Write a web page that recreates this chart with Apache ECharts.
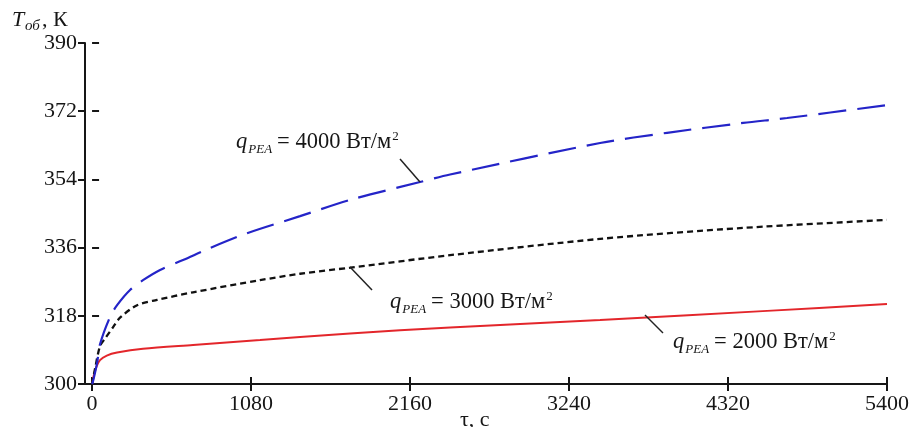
<!DOCTYPE html>
<html>
<head>
<meta charset="utf-8">
<script src="https://cdn.jsdelivr.net/npm/echarts@6/dist/echarts.min.js"></script>
<style>
  html, body { margin: 0; padding: 0; background: #fff; }
  #chart { width: 916px; height: 427px; }
</style>
</head>
<body>
<div id="chart"></div>
<script>
// Tick values of both axes
const timeTicks = [0, 1080, 2160, 3240, 4320, 5400];
const tempTicks = [300, 318, 336, 354, 372, 390];

// Heating curves: time, s -> temperature, K
const time2000 = [0, 12, 30, 54, 100, 170, 346, 686, 1141, 1413, 2092, 2772, 3451, 4586, 5400];
const temp2000 = [300, 302.3, 304.6, 306.3, 307.5, 308.3, 309.3, 310.3, 311.6, 312.4, 314.2, 315.6, 316.9, 319.3, 321.1];

const time3000 = [0, 20, 54, 88, 143, 190, 306, 442, 686, 1141, 1413, 1753, 2432, 3451, 4423, 5400];
const temp3000 = [300, 304, 310, 312, 315, 317.5, 320.8, 322.2, 324.2, 327.4, 329.1, 330.7, 334.0, 338.3, 341.2, 343.3];

const time4000 = [0, 7, 34, 54, 122, 170, 258, 346, 462, 618, 802, 1053, 1413, 1753, 2228, 2432, 3451, 3906, 4423, 4721, 5400];
const temp4000 = [300, 300.8, 305.5, 310.5, 317.7, 320.8, 324.8, 327.4, 330.1, 332.7, 335.9, 339.8, 344.3, 348.6, 353.3, 355.3, 363.6, 366.3, 368.9, 370.2, 373.6];

// Heat-flux values used in the curve captions
const fluxValues = ['2000', '3000', '4000'];

const SERIF = '"Liberation Serif", "Times New Roman", serif';
const INK = '#161616';

function pairs(xs, ys) { return xs.map((x, i) => [x, ys[i]]); }

const measureCtx = document.createElement('canvas').getContext('2d');
function textWidth(str, font) { measureCtx.font = font; return measureCtx.measureText(str).width; }

// Text pieces positioned on a common alphabetic baseline
function piece(str, x, baseline, size, italic) {
  return {
    type: 'text',
    style: {
      text: str, x: x, y: baseline - size * 0.34,
      font: (italic ? 'italic ' : '') + size + 'px ' + SERIF,
      fill: INK, verticalAlign: 'middle', textAlign: 'left'
    },
    z: 10
  };
}

// Caption "q_PEA = N Вт/м²" starting at x with baseline y
function caption(flux, x, y) {
  const big = 22.5, small = 13;
  const els = [];
  els.push(piece('q', x, y, big, true));
  let cx = x + textWidth('q', 'italic ' + big + 'px ' + SERIF) + 1;
  els.push(piece('PEA', cx, y + 4, small, true));
  cx += textWidth('PEA', 'italic ' + small + 'px ' + SERIF) + 5;
  const main = '= ' + flux + ' Вт/м';
  els.push(piece(main, cx, y, big, false));
  cx += textWidth(main, big + 'px ' + SERIF) + 1;
  els.push(piece('2', cx, y - 9, small, false));
  return els;
}

function leader(x1, y1, x2, y2) {
  return {
    type: 'line', shape: { x1, y1, x2, y2 },
    style: { stroke: '#222', lineWidth: 1.5 }, z: 10
  };
}

const graphics = [].concat(
  caption(fluxValues[2], 236, 150),
  caption(fluxValues[1], 390, 310),
  caption(fluxValues[0], 673, 350),
  [
    leader(400, 159, 420, 182),
    leader(350, 267, 372, 290),
    leader(645, 315, 663, 333),
    // axis titles
    piece('T', 12, 28, 22, true),
    piece('об', 25, 31, 15, true),
    piece(', К', 42, 28, 22, false),
    piece('τ, c', 460, 428, 22, false)
  ]
);

const tickStyle = { color: INK, width: 2 };

const chart = echarts.init(document.getElementById('chart'), null, { renderer: 'canvas' });
chart.setOption({
  animation: false,
  backgroundColor: '#fff',
  grid: { left: 85, right: 29, top: 43, bottom: 43 },
  xAxis: [
    {
      type: 'value', min: -48, max: 5400, position: 'bottom',
      axisLine: { show: true, onZero: false, lineStyle: { color: INK, width: 2 } },
      axisTick: { show: true, customValues: timeTicks, length: 7, lineStyle: tickStyle },
      axisLabel: {
        customValues: timeTicks, margin: 9, fontFamily: SERIF, fontSize: 22, color: INK,
        formatter: v => String(v)
      },
      splitLine: { show: false }
    },
    {
      type: 'value', min: -48, max: 5400, position: 'bottom',
      axisLine: { show: false },
      axisTick: { show: true, inside: true, customValues: timeTicks, length: 7, lineStyle: tickStyle },
      axisLabel: { show: false },
      splitLine: { show: false }
    }
  ],
  yAxis: [
    {
      type: 'value', min: 300, max: 390, position: 'left',
      axisLine: { show: true, onZero: false, lineStyle: { color: INK, width: 2 } },
      axisTick: { show: true, customValues: tempTicks, length: 7, lineStyle: tickStyle },
      axisLabel: {
        customValues: tempTicks, margin: 8, fontFamily: SERIF, fontSize: 22, color: INK,
        formatter: v => String(v)
      },
      splitLine: { show: false }
    },
    {
      type: 'value', min: 300, max: 390, position: 'left',
      axisLine: { show: false },
      axisTick: { show: true, inside: true, customValues: tempTicks, length: 7, lineStyle: tickStyle },
      axisLabel: { show: false },
      splitLine: { show: false }
    }
  ],
  series: [
    {
      name: fluxValues[0], type: 'line', data: pairs(time2000, temp2000),
      showSymbol: false, smooth: 0.3,
      lineStyle: { color: '#e3262b', width: 2 }, z: 3
    },
    {
      name: fluxValues[1], type: 'line', data: pairs(time3000, temp3000),
      showSymbol: false, smooth: 0.3,
      lineStyle: { color: '#111', width: 2.3, type: [6, 4] }, z: 4
    },
    {
      name: fluxValues[2], type: 'line', data: pairs(time4000, temp4000),
      showSymbol: false, smooth: 0.3,
      lineStyle: { color: '#2424c8', width: 2.2, type: [28, 11] }, z: 5
    }
  ],
  graphic: graphics
});
</script>
</body>
</html>
